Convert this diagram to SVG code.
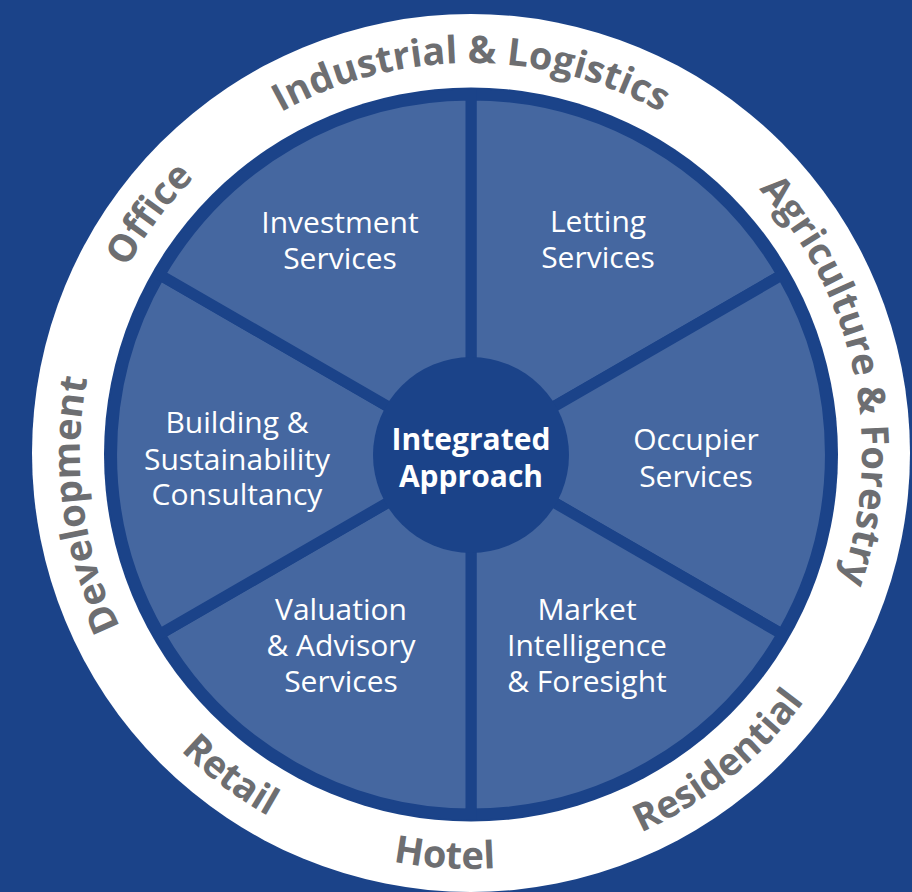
<svg xmlns="http://www.w3.org/2000/svg" width="912" height="892" viewBox="0 0 912 892">
<defs>
<style>
.ring{font-family:"Open Sans","Liberation Sans",sans-serif;font-weight:700;font-size:38px;fill:#6d6e71;text-anchor:middle}
.seg{font-family:"Open Sans","Liberation Sans",sans-serif;font-size:30px;fill:#ffffff;text-anchor:middle}
.hubt{font-family:"Open Sans","Liberation Sans",sans-serif;font-weight:700;font-size:30px;fill:#ffffff;text-anchor:middle}
.wedge{fill:#4567a0;stroke:#1b4389;stroke-width:11}
</style>
<path id="cw" d="M80,454 A391,391 0 0 1 862,454"/>
<path id="ccw" d="M56,454 A415,415 0 0 0 886,454"/>
</defs>
<rect width="912" height="892" fill="#1b4389"/>
<g id="ring">
<circle cx="471" cy="453" r="439" fill="#ffffff"/>
<circle cx="471" cy="454.5" r="367" fill="#1b4389"/>
</g>
<g id="ring-labels">
<text id="lbl-industrial" class="ring"><textPath href="#cw" startOffset="50%">Industrial &amp; Logistics</textPath></text>
<text id="lbl-office" class="ring" transform="rotate(-53.3 471 454)"><textPath href="#cw" startOffset="50%">Office</textPath></text>
<text id="lbl-agri" class="ring" transform="rotate(78.2 471 454)"><textPath href="#cw" startOffset="50%">Agriculture &amp; Forestry</textPath></text>
<text id="lbl-dev" class="ring" transform="rotate(-97.5 471 454)"><textPath href="#cw" startOffset="50%">Development</textPath></text>
<text id="lbl-retail" class="ring" transform="rotate(36.8 471 454)"><textPath href="#ccw" startOffset="50%">Retail</textPath></text>
<text id="lbl-hotel" class="ring" transform="rotate(3.7 471 454)"><textPath href="#ccw" startOffset="50%">Hotel</textPath></text>
<text id="lbl-res" class="ring" transform="rotate(-38.8 471 454)"><textPath href="#ccw" startOffset="50%">Residential</textPath></text>
</g>
<g id="letting">
<path class="wedge" d="M471,454.5 L471,95 A359.5,359.5 0 0 1 782.3,274.75 Z"/>
<text class="seg"><tspan x="598" y="232">Letting</tspan><tspan x="598" y="268">Services</tspan></text>
</g>
<g id="occupier">
<path class="wedge" d="M471,454.5 L782.3,274.75 A359.5,359.5 0 0 1 782.3,634.25 Z"/>
<text class="seg"><tspan x="696" y="450">Occupier</tspan><tspan x="696" y="487">Services</tspan></text>
</g>
<g id="market">
<path class="wedge" d="M471,454.5 L782.3,634.25 A359.5,359.5 0 0 1 471,814 Z"/>
<text class="seg"><tspan x="587" y="620">Market</tspan><tspan x="587" y="656">Intelligence</tspan><tspan x="587" y="692">&amp; Foresight</tspan></text>
</g>
<g id="valuation">
<path class="wedge" d="M471,454.5 L471,814 A359.5,359.5 0 0 1 159.7,634.25 Z"/>
<text class="seg"><tspan x="341" y="620">Valuation</tspan><tspan x="341" y="656">&amp; Advisory</tspan><tspan x="341" y="692">Services</tspan></text>
</g>
<g id="building">
<path class="wedge" d="M471,454.5 L159.7,634.25 A359.5,359.5 0 0 1 159.7,274.75 Z"/>
<text class="seg"><tspan x="237" y="433">Building &amp;</tspan><tspan x="237" y="470">Sustainability</tspan><tspan x="237" y="505">Consultancy</tspan></text>
</g>
<g id="investment">
<path class="wedge" d="M471,454.5 L159.7,274.75 A359.5,359.5 0 0 1 471,95 Z"/>
<text class="seg"><tspan x="340" y="233">Investment</tspan><tspan x="340" y="269">Services</tspan></text>
</g>
<g id="hub">
<circle cx="471" cy="455" r="98" fill="#1b4389"/>
<text class="hubt"><tspan x="471" y="450">Integrated</tspan><tspan x="471" y="487">Approach</tspan></text>
</g>
</svg>
